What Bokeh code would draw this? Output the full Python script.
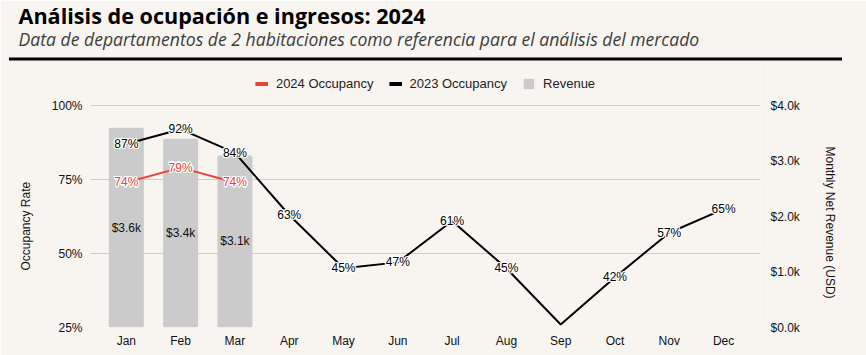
import math
from bokeh.plotting import figure
from bokeh.models import (Range1d, LinearAxis, FixedTicker, ColumnDataSource, Legend, LegendItem,
                          Title, ColorBar, LinearColorMapper)
from bokeh.core.properties import value
from bokeh.embed import file_html
from bokeh.resources import INLINE

months = ["Jan", "Feb", "Mar", "Apr", "May", "Jun", "Jul", "Aug", "Sep", "Oct", "Nov", "Dec"]
occ_2023 = [87, 92, 84, 63, 45, 47, 61, 45, 26, 42, 57, 65]
occ_2024 = [74, 79, 74]
revenue = [3600, 3400, 3100]
occ_ticks = [25, 50, 75, 100]
rev_ticks = [0, 1000, 2000, 3000, 4000]
title_text = "Análisis de ocupación e ingresos: 2024"
subtitle_text = "Data de departamentos de 2 habitaciones como referencia para el análisis del mercado"
left_label = "Occupancy Rate"
right_label = "Monthly Net Revenue (USD)"

BG = "#f8f5f1"
FONT = "Liberation Sans, Arial, Helvetica, sans-serif"
TITLE_FONT = "Open Sans"
RED = "#e8433b"
NAN = float("nan")

# layout (pixels): frame top, top gridline, bottom gridline
FRAME_TOP, GRID_TOP, GRID_BOTTOM = 60, 105, 327
occ_lo, occ_hi = occ_ticks[0], occ_ticks[-1]
rev_lo, rev_hi = rev_ticks[0], rev_ticks[-1]
extra_px = GRID_TOP - FRAME_TOP
grid_px = GRID_BOTTOM - GRID_TOP
occ_top = occ_hi + extra_px * (occ_hi - occ_lo) / grid_px
rev_top = rev_hi + extra_px * (rev_hi - rev_lo) / grid_px

x_all = list(range(len(months)))
labels_2023 = [f"{v}%" if i != 8 else "" for i, v in enumerate(occ_2023)]

src23 = ColumnDataSource(dict(x=x_all, y=occ_2023, lab=labels_2023))
src24 = ColumnDataSource(dict(x=x_all[:len(occ_2024)], y=occ_2024, lab=[f"{v}%" for v in occ_2024]))
srcrev = ColumnDataSource(dict(x=x_all[:len(revenue)], top=revenue, mid=[r / 2 for r in revenue],
                               lab=[f"${r/1000:.1f}k" for r in revenue]))

p = figure(width=866, height=355, output_backend="svg", toolbar_location=None,
           x_range=Range1d(-0.66, 11.68), y_range=Range1d(occ_lo, occ_top),
           min_border_left=90, min_border_right=106, min_border_top=FRAME_TOP,
           min_border_bottom=355 - GRID_BOTTOM,
           background_fill_color=BG, border_fill_color=BG, outline_line_color=None)
p.extra_y_ranges = {"rev": Range1d(rev_lo, rev_top)}

bars = p.vbar(x="x", top="top", width=0.645, source=srcrev, y_range_name="rev",
              fill_color="#cbcbcb", line_color=None, border_radius=2)
p.text(x="x", y="mid", text="lab", source=srcrev, y_range_name="rev",
       text_align="center", text_baseline="middle", text_font=value(FONT),
       text_font_size="12px", text_color="#111111")

l23 = p.line(x="x", y="y", source=src23, line_color="#000000", line_width=2)
l24 = p.line(x="x", y="y", source=src24, line_color=RED, line_width=2)

halo_offsets = [(-1.2, 0), (1.2, 0), (0, -1.2), (0, 1.2), (-1, -1), (1, 1), (-1, 1), (1, -1)]
for src, col in [(src23, "#000000"), (src24, RED)]:
    for dx, dy in halo_offsets:
        p.text(x="x", y="y", text="lab", source=src, text_align="center", text_baseline="middle",
               text_font=value(FONT), text_font_size="12px", text_color="#ffffff",
               x_offset=dx, y_offset=dy)
    p.text(x="x", y="y", text="lab", source=src, text_align="center", text_baseline="middle",
           text_font=value(FONT), text_font_size="12px", text_color=col)

# legend-only swatches (nothing drawn in the plot area)
leg24 = p.line(x=[NAN], y=[NAN], line_color=RED, line_width=4)
leg23 = p.line(x=[NAN], y=[NAN], line_color="#000000", line_width=4)

p.xaxis.ticker = FixedTicker(ticks=x_all)
p.xaxis.major_label_overrides = {i: m for i, m in enumerate(months)}
p.yaxis.ticker = FixedTicker(ticks=occ_ticks)
p.yaxis.major_label_overrides = {t: f"{t}%" for t in occ_ticks}

raxis = LinearAxis(y_range_name="rev", ticker=FixedTicker(ticks=rev_ticks))
raxis.major_label_overrides = {t: f"${t/1000:.1f}k" for t in rev_ticks}
p.add_layout(raxis, "right")

for ax in [p.xaxis[0], p.yaxis[0], raxis]:
    ax.axis_line_color = None
    ax.major_tick_line_color = None
    ax.minor_tick_line_color = None
    ax.major_tick_out = 0
    ax.major_tick_in = 0
    ax.minor_tick_out = 0
    ax.minor_tick_in = 0
    ax.major_label_text_font = FONT
    ax.major_label_text_font_size = "12px"
    ax.major_label_text_color = "#111111"
p.xaxis.major_label_standoff = 6
p.yaxis.major_label_standoff = 8
raxis.major_label_standoff = 10

# axis titles, placed along the axes like the reference
p.add_layout(Title(text=left_label, text_font=FONT, text_font_size="12px",
                   text_font_style="normal", text_color="#111111", align="left",
                   offset=57, standoff=31), "left")
p.add_layout(Title(text=right_label, text_font=FONT, text_font_size="12px",
                   text_font_style="normal", text_color="#111111", align="left",
                   offset=86, standoff=40), "right")

p.xgrid.grid_line_color = None
p.ygrid.grid_line_color = "#cfcccb"
p.ygrid.grid_line_width = 1

legend = Legend(items=[LegendItem(label="2024 Occupancy", renderers=[leg24]),
                       LegendItem(label="2023 Occupancy", renderers=[leg23]),
                       LegendItem(label="Revenue", renderers=[bars])],
                orientation="horizontal", location="top_center", padding=0, margin=16,
                background_fill_alpha=0, border_line_color=None,
                label_text_font=FONT, label_text_font_size="13px", label_text_color="#222222",
                glyph_width=13, glyph_height=13, label_standoff=8, spacing=15)
p.add_layout(legend, "center")

# black rule under the subtitle
rule = ColorBar(color_mapper=LinearColorMapper(palette=["#000000"], low=0, high=1),
                orientation="horizontal", width=833, height=3, location="center",
                padding=0, margin=0, label_standoff=0, ticker=FixedTicker(ticks=[]),
                major_tick_line_color=None, minor_tick_line_color=None,
                major_label_text_font_size="0px", bar_line_color=None,
                border_line_color=None, background_fill_alpha=0)
p.add_layout(rule, "above")

p.add_layout(Title(text=subtitle_text, text_font=TITLE_FONT, text_font_size="17.6px",
                   text_font_style="italic", text_color="#3d3d3d", align="left",
                   offset=-72, standoff=14), "above")
p.add_layout(Title(text=title_text, text_font=TITLE_FONT, text_font_size="21.6px",
                   text_font_style="bold", text_color="#000000", align="left",
                   offset=-72, standoff=-25), "above")

open("out.html", "w").write(file_html(p, INLINE))
